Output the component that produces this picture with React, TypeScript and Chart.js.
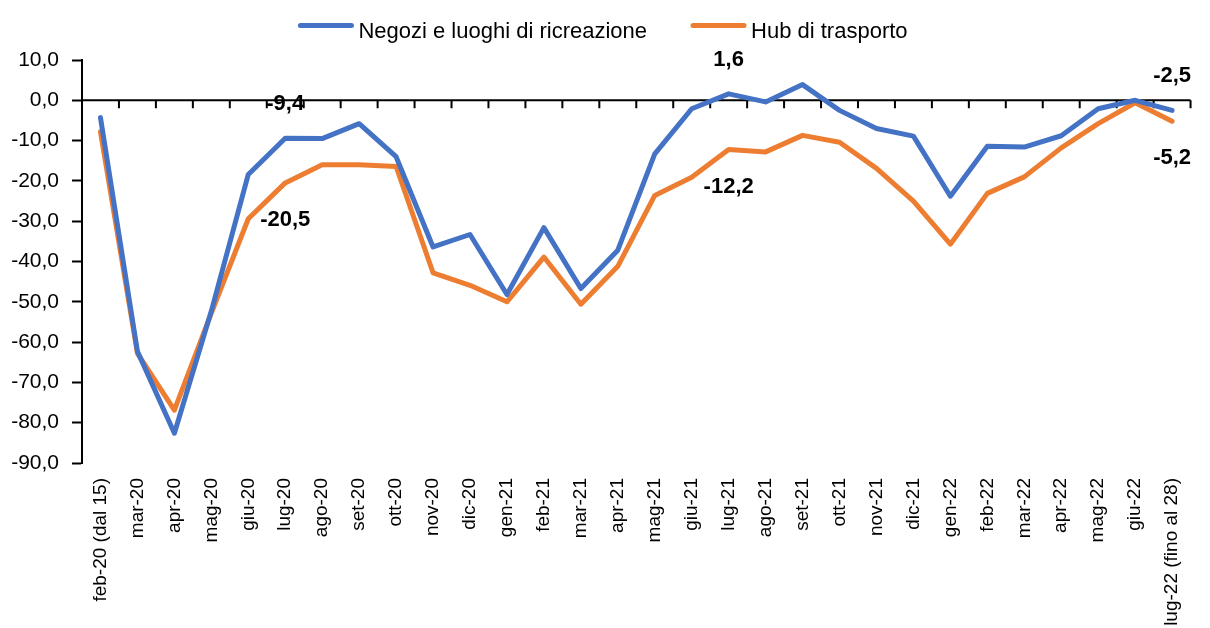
import React, { useEffect, useRef } from 'react';
import { Chart, registerables } from 'chart.js';

Chart.register(...registerables);

// ---- data ----
const categories: string[] = [
  'feb-20 (dal 15)', 'mar-20', 'apr-20', 'mag-20', 'giu-20', 'lug-20', 'ago-20', 'set-20', 'ott-20',
  'nov-20', 'dic-20', 'gen-21', 'feb-21', 'mar-21', 'apr-21', 'mag-21', 'giu-21', 'lug-21', 'ago-21',
  'set-21', 'ott-21', 'nov-21', 'dic-21', 'gen-22', 'feb-22', 'mar-22', 'apr-22', 'mag-22', 'giu-22',
  'lug-22 (fino al 28)',
];

const negozi: number[] = [
  -4.3, -62.3, -82.6, -52.3, -18.4, -9.4, -9.5, -5.8, -14.0,
  -36.4, -33.3, -48.2, -31.6, -46.7, -37.2, -13.3, -2.1, 1.6, -0.4,
  3.9, -2.5, -7.0, -8.9, -23.8, -11.4, -11.6, -8.8, -2.1, 0.0,
  -2.5,
];

const hub: number[] = [
  -7.8, -62.8, -76.9, -52.8, -29.4, -20.5, -16.0, -16.0, -16.4,
  -42.8, -45.9, -50.0, -38.9, -50.6, -41.2, -23.6, -19.1, -12.2, -12.8,
  -8.7, -10.4, -16.9, -25.0, -35.7, -23.1, -19.0, -11.8, -5.8, -0.6,
  -5.2,
];

const seriesNames: string[] = ['Negozi e luoghi di ricreazione', 'Hub di trasporto'];
const labeledIndices: number[] = [5, 17, 29];
const yMin = -90;
const yMax = 10;
const yStep = 10;

// ---- styles ----
const FAMILY = "'Liberation Sans', Arial, sans-serif";
const BLUE = '#4472C4';
const ORANGE = '#ED7D31';

const fmt = (v: number) => v.toFixed(1).replace('.', ',');

const zeroAxisPlugin = {
  id: 'zeroAxis',
  beforeDatasetsDraw(chart: any) {
    const { ctx, chartArea } = chart;
    const xs = chart.scales.x;
    const ys = chart.scales.y;
    const y0 = ys.getPixelForValue(0);
    const n = chart.data.labels.length;
    const half = (xs.getPixelForValue(1) - xs.getPixelForValue(0)) / 2;
    ctx.save();
    ctx.strokeStyle = '#000';
    ctx.lineWidth = 2;
    ctx.beginPath();
    ctx.moveTo(chartArea.left, y0);
    ctx.lineTo(chartArea.right, y0);
    for (let i = 0; i <= n; i++) {
      const x = i < n ? xs.getPixelForValue(i) - half : xs.getPixelForValue(n - 1) + half;
      ctx.moveTo(x, y0);
      ctx.lineTo(x, y0 + 8);
    }
    ctx.stroke();
    ctx.restore();
  },
};

const dataLabelPlugin = {
  id: 'dataLabels',
  afterDatasetsDraw(chart: any) {
    const { ctx } = chart;
    ctx.save();
    ctx.font = `bold 22px ${FAMILY}`;
    ctx.fillStyle = '#000';
    ctx.textAlign = 'center';
    ctx.textBaseline = 'middle';
    chart.data.datasets.forEach((ds: any, di: number) => {
      const meta = chart.getDatasetMeta(di);
      const off = di === 0 ? -34 : 37;
      labeledIndices.forEach((i) => {
        const el = meta.data[i];
        if (!el) return;
        ctx.fillText(fmt(ds.data[i]), el.x, el.y + off);
      });
    });
    ctx.restore();
  },
};

const legendPlugin = {
  id: 'customLegend',
  afterDraw(chart: any) {
    const { ctx } = chart;
    ctx.save();
    ctx.font = `22px ${FAMILY}`;
    const lineLen = 55;
    const gap = 5;
    const itemGap = 44;
    const items = chart.data.datasets.map((ds: any) => ({
      text: ds.label,
      color: ds.borderColor,
      w: ctx.measureText(ds.label).width,
    }));
    const total = items.reduce((s: number, it: any) => s + lineLen + gap + it.w, 0) + itemGap * (items.length - 1);
    let x = chart.width / 2 - 2 - total / 2;
    const yLine = 25.5;
    items.forEach((it: any) => {
      ctx.strokeStyle = it.color;
      ctx.lineWidth = 5;
      ctx.lineCap = 'round';
      ctx.beginPath();
      ctx.moveTo(x + 2, yLine);
      ctx.lineTo(x + lineLen - 2, yLine);
      ctx.stroke();
      ctx.fillStyle = '#000';
      ctx.textAlign = 'left';
      ctx.textBaseline = 'alphabetic';
      ctx.fillText(it.text, x + lineLen + gap, 37.5);
      x += lineLen + gap + it.w + itemGap;
    });
    ctx.restore();
  },
};

export default function App() {
  const ref = useRef<HTMLCanvasElement | null>(null);

  useEffect(() => {
    if (!ref.current) return;
    const chart = new Chart(ref.current, {
      type: 'line',
      data: {
        labels: categories,
        datasets: [
          {
            label: seriesNames[0],
            data: negozi,
            borderColor: BLUE,
            backgroundColor: BLUE,
            borderWidth: 5,
            pointRadius: 0,
            tension: 0,
            borderJoinStyle: 'round',
            borderCapStyle: 'round',
          },
          {
            label: seriesNames[1],
            data: hub,
            borderColor: ORANGE,
            backgroundColor: ORANGE,
            borderWidth: 5,
            pointRadius: 0,
            tension: 0,
            borderJoinStyle: 'round',
            borderCapStyle: 'round',
          },
        ],
      },
      options: {
        responsive: false,
        maintainAspectRatio: false,
        animation: false,
        devicePixelRatio: 1,
        layout: { padding: { top: 60, right: 7, left: 0, bottom: 0 } },
        plugins: {
          legend: { display: false },
          tooltip: { enabled: false },
          title: { display: false },
        },
        scales: {
          x: {
            type: 'category',
            offset: true,
            grid: { display: false, drawTicks: false },
            border: { display: false },
            ticks: {
              autoSkip: false,
              minRotation: 90,
              maxRotation: 90,
              padding: 15,
              color: '#000',
              font: { family: FAMILY, size: 19 },
            },
            afterFit(scale: any) {
              scale.height = 165;
            },
          },
          y: {
            min: yMin,
            max: yMax,
            grid: {
              display: true,
              drawOnChartArea: false,
              drawTicks: true,
              tickLength: 10,
              tickWidth: 2,
              tickColor: '#000',
              color: '#000',
            },
            border: { display: true, color: '#000', width: 2 },
            ticks: {
              stepSize: yStep,
              padding: 13,
              color: '#000',
              font: { family: FAMILY, size: 21 },
              callback: (v: any) => fmt(Number(v)),
            },
            afterFit(scale: any) {
              scale.width = 82;
            },
          },
        },
      },
      plugins: [zeroAxisPlugin, dataLabelPlugin, legendPlugin],
    });
    return () => chart.destroy();
  }, []);

  return (
    <div style={{ position: 'fixed', left: 0, top: 0, width: 1210, height: 628, background: '#fff' }}>
      <canvas ref={ref} width={1210} height={628} style={{ display: 'block', width: 1210, height: 628 }} />
    </div>
  );
}
